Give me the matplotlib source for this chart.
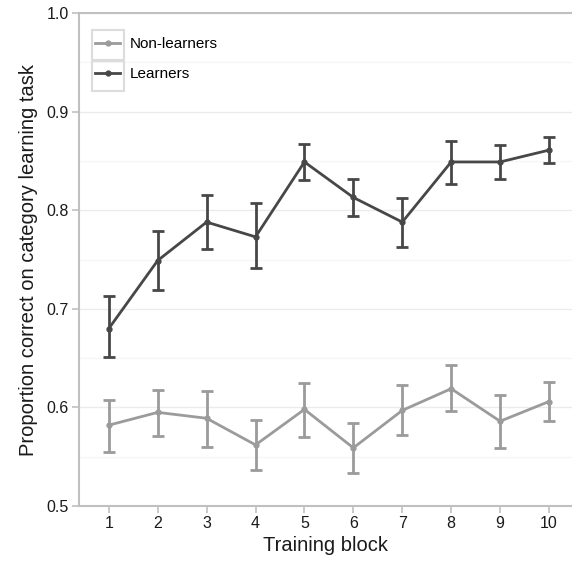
import numpy as np
import matplotlib
matplotlib.use("Agg")
import matplotlib.pyplot as plt
from matplotlib.patches import Rectangle
from matplotlib.lines import Line2D

plt.rcParams['font.family'] = ['Liberation Sans', 'DejaVu Sans']

blocks = np.arange(1, 11)

# learners: mean and error-bar ends
learn_mean = [0.680, 0.749, 0.788, 0.773, 0.849, 0.813, 0.788, 0.849, 0.849, 0.861]
learn_lo = [0.651, 0.719, 0.761, 0.741, 0.831, 0.794, 0.763, 0.827, 0.832, 0.848]
learn_hi = [0.713, 0.779, 0.815, 0.807, 0.867, 0.832, 0.812, 0.870, 0.866, 0.874]

# non-learners
non_mean = [0.582, 0.595, 0.589, 0.562, 0.598, 0.559, 0.597, 0.619, 0.586, 0.606]
non_lo = [0.555, 0.571, 0.560, 0.537, 0.570, 0.533, 0.572, 0.596, 0.559, 0.586]
non_hi = [0.608, 0.618, 0.617, 0.587, 0.625, 0.584, 0.623, 0.643, 0.613, 0.626]

c_learn = '#474747'
c_non = '#9b9b9b'

fig = plt.figure(figsize=(5.72, 5.64), dpi=100)
ax = fig.add_axes([0.138, 0.1028, 0.862, 0.874])

def draw(mean, lo, hi, col):
    mean = np.array(mean)
    err = [mean - np.array(lo), np.array(hi) - mean]
    ax.errorbar(blocks, mean, yerr=err, color=col, lw=2, elinewidth=2,
                capsize=4.6, capthick=2, marker='o', ms=3.5, zorder=3)

draw(non_mean, non_lo, non_hi, c_non)
draw(learn_mean, learn_lo, learn_hi, c_learn)

ax.set_xlim(0.39, 10.47)
ax.set_ylim(0.5, 1.0)
ax.set_xticks(blocks)
ax.set_yticks([0.5, 0.6, 0.7, 0.8, 0.9, 1.0])
ax.set_yticks([0.55, 0.65, 0.75, 0.85, 0.95], minor=True)
ax.yaxis.grid(True, which='major', color='#ebebeb', lw=1)
ax.yaxis.grid(True, which='minor', color='#f6f6f6', lw=1)
ax.set_axisbelow(True)
ax.tick_params(which='minor', left=False)
ax.tick_params(which='major', color='#c0c0c0', length=5, width=1.2,
               labelsize=11.5, labelcolor='#1a1a1a', pad=2.5)

for s in ['left', 'bottom', 'top']:
    ax.spines[s].set_color('#c0c0c0')
    ax.spines[s].set_linewidth(1.5)
ax.spines['right'].set_visible(False)

ax.set_xlabel('Training block', fontsize=14.5, color='#1a1a1a', labelpad=3)
ax.set_ylabel('Proportion correct on category learning task', fontsize=14.5,
              color='#1a1a1a', labelpad=6)

# legend keys are boxed like ggplot
handles = [Line2D([], [], color=c_non, lw=2, marker='o', ms=3.5),
           Line2D([], [], color=c_learn, lw=2, marker='o', ms=3.5)]
ax.legend(handles, ['Non-learners', 'Learners'], loc='upper left',
          bbox_to_anchor=(0.0325, 0.951), frameon=False, borderpad=0,
          borderaxespad=0, fontsize=11, handlelength=1.65, handletextpad=0.65,
          labelspacing=1.05)
for y0 in [0.8418, 0.9026]:
    ax.add_patch(Rectangle((0.0264, y0), 0.065, 0.0638, transform=ax.transAxes,
                           fill=False, ec='#dcdcdc', lw=1.5, zorder=5))

plt.savefig('out.png', dpi=100)
